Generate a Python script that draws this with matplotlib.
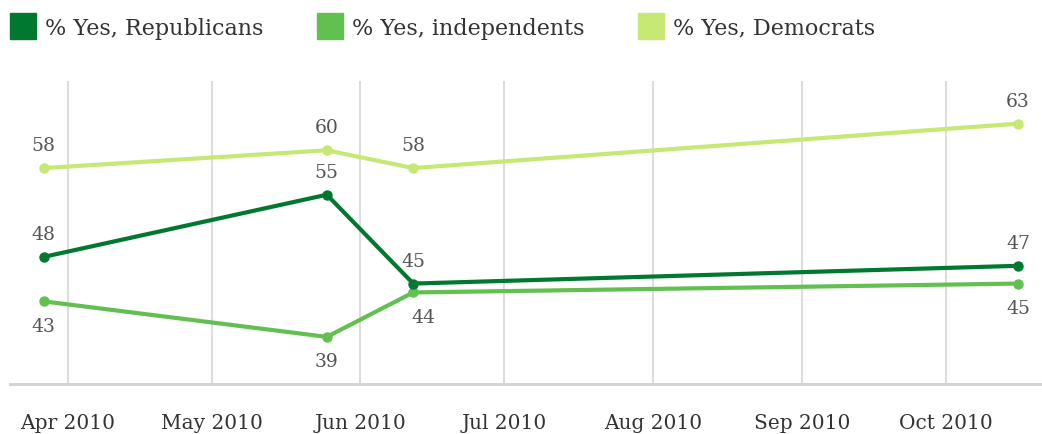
import matplotlib
matplotlib.use("Agg")
import matplotlib.pyplot as plt
import matplotlib.dates as mdates
from matplotlib.lines import Line2D
import numpy as np

# poll dates and results
dates = np.array(["2010-03-27", "2010-05-25", "2010-06-12", "2010-10-16"], dtype="datetime64[D]")
republicans = [48, 55, 45, 47]
independents = [43, 39, 44, 45]
democrats = [58, 60, 58, 63]

series_names = ["% Yes, Republicans", "% Yes, independents", "% Yes, Democrats"]
colors = ["#00782f", "#62c050", "#c6e874"]

plt.rcParams["font.family"] = ["DejaVu Serif"]

fig = plt.figure(figsize=(10.42, 4.35), dpi=100)
ax = fig.add_axes([0.0096, 0.115, 0.9904, 0.6965])

for vals, c, name in zip([democrats, independents, republicans], colors[::-1], series_names[::-1]):
    ax.plot(dates, vals, color=c, lw=3, marker="o", ms=6.5, solid_joinstyle="round", zorder=3)

# value labels: independents below, the others above
label_col = "#555555"
for d, v in zip(dates, democrats):
    ax.annotate(str(v), (d, v), xytext=(0, 10), textcoords="offset points",
                ha="center", va="bottom", fontsize=13.5, color=label_col)
for d, v in zip(dates, republicans):
    ax.annotate(str(v), (d, v), xytext=(0, 10), textcoords="offset points",
                ha="center", va="bottom", fontsize=13.5, color=label_col)
for i, (d, v) in enumerate(zip(dates, independents)):
    dx = 7 if i == 2 else 0
    ax.annotate(str(v), (d, v), xytext=(dx, -11), textcoords="offset points",
                ha="center", va="top", fontsize=13.5, color=label_col)

ax.set_ylim(33.7, 67.8)
ax.set_xlim(np.datetime64("2010-03-20"), np.datetime64("2010-10-21"))
ax.set_yticks([])
ax.xaxis.set_major_locator(mdates.MonthLocator())
ax.xaxis.set_major_formatter(mdates.DateFormatter("%b %Y"))
ax.tick_params(axis="x", length=0, pad=21, labelsize=14.5, labelcolor="#333333")
ax.grid(axis="x", color="#d6d6d6", lw=1.2)
ax.set_axisbelow(True)
for s in ["top", "left", "right"]:
    ax.spines[s].set_visible(False)
ax.spines["bottom"].set_color("#d4d4d4")
ax.spines["bottom"].set_linewidth(2.2)

handles = [Line2D([], [], ls="none", marker="s", ms=19, color=c) for c in colors]
fig.legend(handles, series_names, loc="upper left", bbox_to_anchor=(-0.005, 1.0),
           ncol=3, frameon=False, fontsize=16, labelcolor="#333333",
           handlelength=0.9, handletextpad=0.55, columnspacing=2.55, borderaxespad=0.4)

fig.savefig("out.png", dpi=100)
